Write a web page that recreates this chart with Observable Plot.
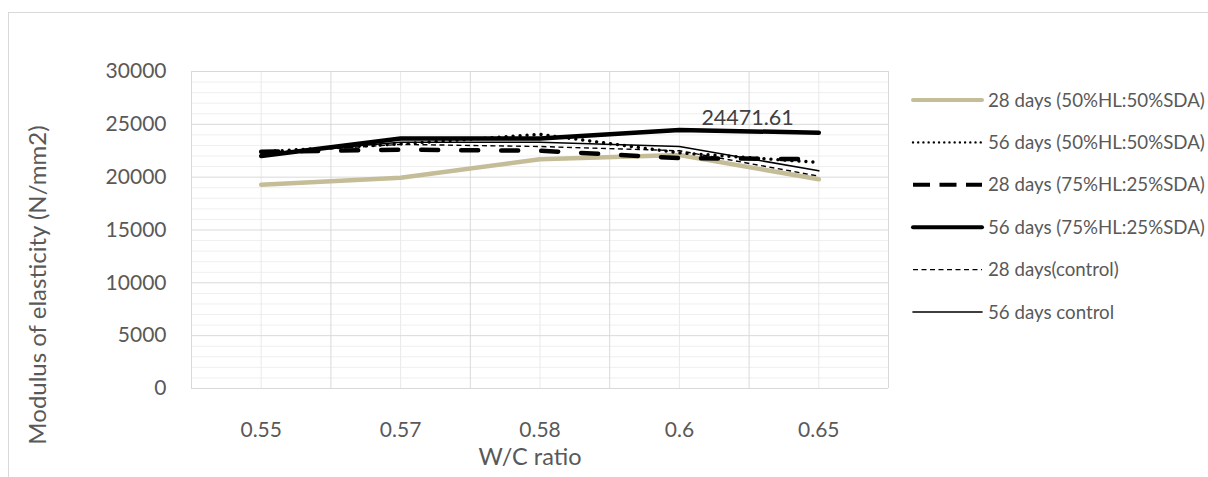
<!DOCTYPE html>
<html>
<head>
<meta charset="utf-8">
<script src="https://cdn.jsdelivr.net/npm/d3@7"></script>
<script src="https://cdn.jsdelivr.net/npm/@observablehq/plot@0.6"></script>
<style>
  html, body { margin: 0; padding: 0; background: #fff; }
  #wrap { position: relative; width: 1208px; height: 477px; overflow: hidden; font-family: Lato, "Open Sans", sans-serif; }
  #frame { position: absolute; left: 8px; top: 12px; width: 1220px; height: 480px; border: 1.5px solid #d9d9d9; box-sizing: border-box; }
  #chart { position: absolute; left: 0; top: 0; }
  #legend { position: absolute; left: 0; top: 0; }
</style>
</head>
<body>
<div id="wrap">
  <div id="frame"></div>
  <div id="chart"></div>
  <svg id="legend" width="1208" height="477"></svg>
</div>
<script>
// ---- data ----
const categories = ["0.55", "0.57", "0.58", "0.6", "0.65"];
const seriesNames = [
  "28 days (50%HL:50%SDA)",
  "56 days (50%HL:50%SDA)",
  "28 days (75%HL:25%SDA)",
  "56 days (75%HL:25%SDA)",
  "28 days(control)",
  "56 days control"
];
const days28_50HL = [19280, 19950, 21700, 22100, 19800];
const days56_50HL = [22400, 23150, 24050, 22300, 21400];
const days28_75HL = [22400, 22600, 22500, 21800, 21700];
const days56_75HL = [22000, 23650, 23650, 24471.61, 24200];
const days28_control = [22300, 23100, 22900, 22500, 20100];
const days56_control = [22200, 23300, 23300, 22900, 20600];
const yTicks = [0, 5000, 10000, 15000, 20000, 25000, 30000];
const xTitle = "W/C ratio";
const yTitle = "Modulus of elasticity (N/mm2)";
const labelSeries = 3, labelIndex = 3;

// ---- build ----
const seriesValues = [days28_50HL, days56_50HL, days28_75HL, days56_75HL, days28_control, days56_control];
const data = seriesNames.flatMap((name, s) => seriesValues[s].map((v, i) => ({series: name, s, i, v})));

const styles = [
  {stroke: "#c4bd97", strokeWidth: 4.5, strokeDasharray: null, strokeLinecap: "round"},
  {stroke: "#000", strokeWidth: 3.4, strokeDasharray: "0.01,7", strokeLinecap: "round"},
  {stroke: "#000", strokeWidth: 4.5, strokeDasharray: "17,23", strokeLinecap: "round"},
  {stroke: "#000", strokeWidth: 4.5, strokeDasharray: null, strokeLinecap: "round"},
  {stroke: "#000", strokeWidth: 1.4, strokeDasharray: "5,3.5", strokeLinecap: "butt"},
  {stroke: "#000", strokeWidth: 1.6, strokeDasharray: null, strokeLinecap: "round"}
];

const minorY = d3.range(1000, 30000, 1000).filter(v => v % 5000 !== 0);
const bandEdges = d3.range(-0.5, categories.length, 1);
const centers = d3.range(categories.length);

const lineMarks = seriesNames.map((name, s) => {
  const st = styles[s];
  const o = {x: "i", y: "v", stroke: st.stroke, strokeWidth: st.strokeWidth, strokeLinecap: st.strokeLinecap, strokeLinejoin: "round"};
  if (st.strokeDasharray) o.strokeDasharray = st.strokeDasharray;
  return Plot.line(data.filter(d => d.s === s), o);
});

const plot = Plot.plot({
  width: 1208,
  height: 477,
  marginLeft: 191,
  marginRight: 320,
  marginTop: 71,
  marginBottom: 89,
  style: {fontFamily: "Lato, 'Open Sans', sans-serif", fontSize: "21px", color: "#595959", background: "transparent", overflow: "visible"},
  x: {type: "linear", domain: [-0.5, categories.length - 0.5], ticks: centers, tickFormat: i => categories[i], tickSize: 0, tickPadding: 34, label: null, line: false},
  y: {domain: [0, 30000], ticks: yTicks, tickFormat: d => String(d), tickSize: 0, tickPadding: 25, label: null},
  marks: [
    Plot.ruleY(minorY, {stroke: "#efefef", strokeWidth: 1}),
    Plot.ruleX(centers, {stroke: "#e9e9e9", strokeWidth: 1}),
    Plot.ruleY(yTicks, {stroke: "#d9d9d9", strokeWidth: 1}),
    Plot.ruleX(bandEdges, {stroke: "#d9d9d9", strokeWidth: 1}),
    ...lineMarks,
    Plot.text(data.filter(d => d.s === labelSeries && d.i === labelIndex), {
      x: "i", y: "v", text: d => String(d.v), textAnchor: "start", dx: 22, dy: -12, fill: "#404040", fontSize: 21.5
    }),
    Plot.text([xTitle], {frameAnchor: "bottom", textAnchor: "middle", lineAnchor: "middle", dx: -10, dy: 69, fill: "#595959", fontSize: 23.5}),
    Plot.text([yTitle], {frameAnchor: "left", textAnchor: "middle", lineAnchor: "middle", rotate: -90, dx: -153, dy: 55, fill: "#595959", fontSize: 24})
  ]
});
document.getElementById("chart").appendChild(plot);

// ---- legend ----
const leg = d3.select("#legend");
const legX1 = 913, legX2 = 982, legTextX = 988, legY0 = 100, legStep = 42.4;
seriesNames.forEach((name, s) => {
  const st = styles[s];
  const y = legY0 + s * legStep;
  const w = s === 1 ? 2.4 : (s === 2 || s === 3 || s === 0) ? 4 : st.strokeWidth;
  leg.append("line")
    .attr("x1", legX1).attr("x2", legX2)
    .attr("y1", y).attr("y2", y)
    .attr("stroke", st.stroke).attr("stroke-width", w)
    .attr("stroke-linecap", s === 2 ? "butt" : st.strokeLinecap)
    .attr("stroke-dasharray", s === 1 ? "0.01,5.2" : s === 2 ? "17,9.5" : st.strokeDasharray);
  leg.append("text")
    .attr("x", legTextX).attr("y", y).attr("dy", "0.35em")
    .attr("fill", "#595959").attr("font-size", 18.7)
    .attr("font-family", "Lato, 'Open Sans', sans-serif")
    .text(name);
});
</script>
</body>
</html>
